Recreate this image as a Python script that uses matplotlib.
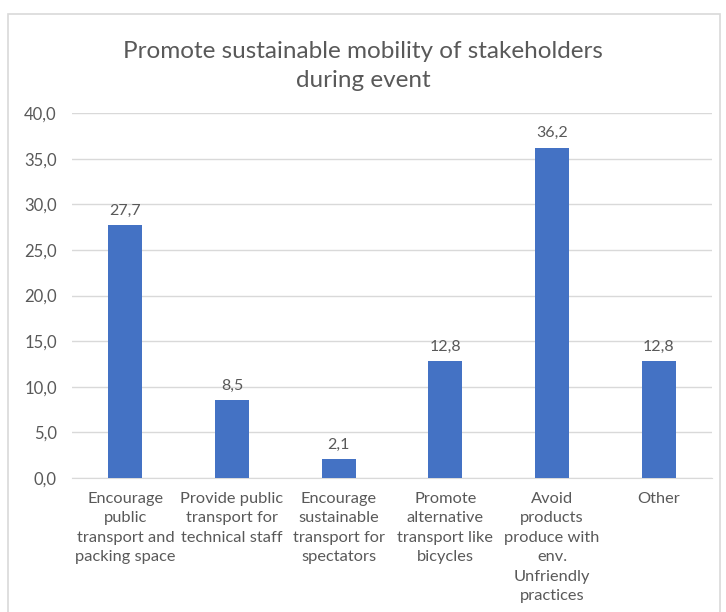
import matplotlib
matplotlib.use('Agg')
import matplotlib.pyplot as plt
from matplotlib.patches import Rectangle

categories = [
    'Encourage\npublic\ntransport and\npacking space',
    'Provide public\ntransport for\ntechnical staff',
    'Encourage\nsustainable\ntransport for\nspectators',
    'Promote\nalternative\ntransport like\nbicycles',
    'Avoid\nproducts\nproduce with\nenv.\nUnfriendly\npractices',
    'Other',
]
values = [27.7, 8.5, 2.1, 12.8, 36.2, 12.8]
yticks = [0, 5, 10, 15, 20, 25, 30, 35, 40]

TEXT = '#595959'
BAR = '#4472C4'
GRID = '#D9D9D9'
plt.rcParams['font.family'] = ['Lato', 'DejaVu Sans']

fig = plt.figure(figsize=(7.26, 6.12), dpi=100)
fig.patches.append(Rectangle((8 / 726, -0.1), (720 - 8) / 726, 1.1 - 14 / 612,
                             transform=fig.transFigure, fill=False,
                             edgecolor='#D9D9D9', linewidth=1.2))
ax = fig.add_axes([72 / 726, 1 - 478 / 612, 640 / 726, (478 - 113) / 612])

x = range(len(categories))
bars = ax.bar(x, values, width=0.32, color=BAR, zorder=3)
for b, v in zip(bars, values):
    ax.text(b.get_x() + b.get_width() / 2, v + 0.8, f'{v:.1f}'.replace('.', ','),
            ha='center', va='bottom', fontsize=11.5, color=TEXT)

ax.set_ylim(0, 40)
ax.set_xlim(-0.5, len(categories) - 0.5)
ax.set_yticks(yticks)
ax.set_yticklabels([f'{t:.1f}'.replace('.', ',') for t in yticks], fontsize=12, color=TEXT)
ax.set_xticks(list(x))
ax.set_xticklabels(categories, fontsize=11.8, color=TEXT, linespacing=1.5, va='top')
ax.yaxis.grid(True, color=GRID, linewidth=1, zorder=0)
ax.tick_params(length=0, pad=11)
ax.tick_params(axis='x', pad=10)
for s in ['top', 'right', 'left']:
    ax.spines[s].set_visible(False)
ax.spines['bottom'].set_color(GRID)

fig.text(0.5, 1 - 66 / 612, 'Promote sustainable mobility of stakeholders\nduring event',
         ha='center', va='center', fontsize=17.5, color=TEXT, linespacing=1.5)

plt.savefig('out.png', dpi=100)
plt.close()
